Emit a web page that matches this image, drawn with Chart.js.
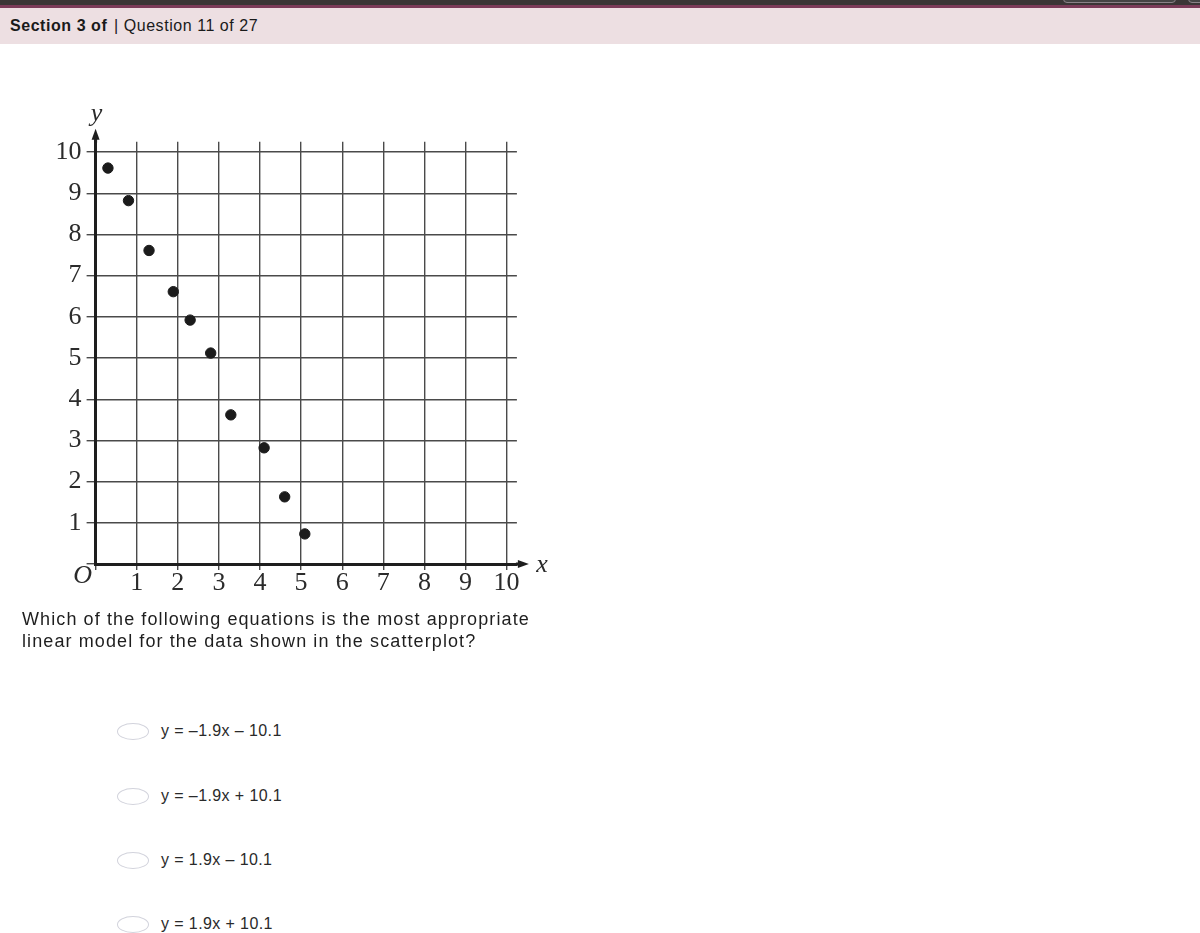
<!DOCTYPE html>
<html>
<head>
<meta charset="utf-8">
<script src="https://cdn.jsdelivr.net/npm/chart.js@4/dist/chart.umd.min.js"></script>
<style>
  html, body { margin: 0; padding: 0; width: 1200px; height: 933px; background: #fff; overflow: hidden; font-family: "Liberation Sans", Arial, sans-serif; }
  #topbar { position: absolute; left: 0; top: 0; width: 1200px; height: 5px; background: #3a3636; }
  #topline { position: absolute; left: 0; top: 5px; width: 1200px; height: 3px; background: #7b3c59; }
  #btn1 { position: absolute; left: 1063px; top: -10px; width: 111px; height: 11px; border: 1px solid #8a8288; border-radius: 4px; background: #444; }
  #btn2 { position: absolute; left: 1188px; top: -10px; width: 40px; height: 11px; border: 1px solid #8a8288; border-radius: 4px; background: #444; }
  #header { position: absolute; left: 0; top: 8px; width: 1200px; height: 36px; background: #eddfe2; }
  #header span { position: absolute; top: 9px; font-size: 16px; letter-spacing: 0.55px; color: #1a1a1a; white-space: nowrap; }
  #question { position: absolute; left: 22px; top: 608px; font-size: 18px; letter-spacing: 1.1px; line-height: 22px; color: #1e1e1e; white-space: nowrap; }
  .opt { position: absolute; left: 117px; height: 18px; }
  .opt .radio { position: absolute; left: 0; top: 0; width: 30px; height: 15px; border: 1px solid #d2d3dc; border-radius: 50%; }
  .opt .lbl { position: absolute; left: 44px; top: -1px; font-size: 16px; letter-spacing: 0.4px; line-height: 18px; color: #2a2a2a; white-space: nowrap; }
  #chartWrap { position: absolute; left: 0; top: 90px; width: 560px; height: 520px; }
</style>
</head>
<body>
<div id="topbar"></div>
<div id="btn1"></div>
<div id="btn2"></div>
<div id="topline"></div>
<div id="header">
  <span style="left:10px;font-weight:bold;">Section 3 of</span>
  <span style="left:114px;">| Question 11 of 27</span>
</div>
<div id="chartWrap"><canvas id="c"></canvas></div>
<div id="question">Which of the following equations is the most appropriate<br>linear model for the data shown in the scatterplot?</div>
<div class="opt" style="top:723px;"><div class="radio"></div><div class="lbl">y = –1.9x – 10.1</div></div>
<div class="opt" style="top:788px;"><div class="radio"></div><div class="lbl">y = –1.9x + 10.1</div></div>
<div class="opt" style="top:852px;"><div class="radio"></div><div class="lbl">y = 1.9x – 10.1</div></div>
<div class="opt" style="top:916px;"><div class="radio"></div><div class="lbl">y = 1.9x + 10.1</div></div>
<script>
// ---- data ----
const xValues = [0.30, 0.80, 1.30, 1.89, 2.30, 2.80, 3.29, 4.10, 4.60, 5.09];
const yValues = [9.61, 8.82, 7.61, 6.61, 5.92, 5.12, 3.62, 2.82, 1.63, 0.73];
const xTickValues = [0, 1, 2, 3, 4, 5, 6, 7, 8, 9, 10];
const xTickLabels = ['', '1', '2', '3', '4', '5', '6', '7', '8', '9', '10'];
const yTickValues = [0, 1, 2, 3, 4, 5, 6, 7, 8, 9, 10];
const yTickLabels = ['', '1', '2', '3', '4', '5', '6', '7', '8', '9', '10'];
const xAxisTitle = 'x';
const yAxisTitle = 'y';
const originLabel = 'O';

const points = xValues.map((x, i) => ({ x: x, y: yValues[i] }));

const serif = '"Liberation Serif", "DejaVu Serif", serif';

const axisDecor = {
  id: 'axisDecor',
  afterDraw(chart) {
    const { ctx, chartArea, scales } = chart;
    const x0 = scales.x.getPixelForValue(0);
    const y0 = scales.y.getPixelForValue(0);
    ctx.save();
    ctx.strokeStyle = '#1e1e1e';
    ctx.fillStyle = '#1e1e1e';
    ctx.lineWidth = 3;
    // y axis extension + arrow
    ctx.beginPath();
    ctx.moveTo(x0, chartArea.top + 1);
    ctx.lineTo(x0, chartArea.top - 5);
    ctx.stroke();
    ctx.beginPath();
    ctx.moveTo(x0, chartArea.top - 13);
    ctx.lineTo(x0 - 4, chartArea.top - 2);
    ctx.lineTo(x0 + 4, chartArea.top - 2);
    ctx.closePath();
    ctx.fill();
    // x axis extension + arrow
    ctx.beginPath();
    ctx.moveTo(chartArea.right - 1, y0);
    ctx.lineTo(chartArea.right + 5, y0);
    ctx.stroke();
    ctx.beginPath();
    ctx.moveTo(chartArea.right + 12, y0);
    ctx.lineTo(chartArea.right + 1, y0 - 4);
    ctx.lineTo(chartArea.right + 1, y0 + 4);
    ctx.closePath();
    ctx.fill();
    // texts
    ctx.fillStyle = '#2b2b2b';
    ctx.font = 'italic 26px ' + serif;
    ctx.textAlign = 'center';
    ctx.textBaseline = 'alphabetic';
    ctx.fillText(yAxisTitle, x0 + 1, chartArea.top - 21);
    ctx.fillText(xAxisTitle, chartArea.right + 25, y0 + 8);
    ctx.fillText(originLabel, x0 - 13, y0 + 19);
    ctx.restore();
  }
};

new Chart(document.getElementById('c'), {
  type: 'scatter',
  data: {
    datasets: [{
      data: points,
      backgroundColor: '#1b1b1b',
      borderColor: '#1b1b1b',
      pointRadius: 5.2,
      pointHoverRadius: 5.2
    }]
  },
  options: {
    responsive: true,
    maintainAspectRatio: false,
    animation: false,
    layout: { padding: { left: 45.6, top: 51.7, right: 43.1, bottom: 6 } },
    plugins: { legend: { display: false }, tooltip: { enabled: false } },
    scales: {
      x: {
        type: 'linear',
        min: 0,
        max: 10.25,
        afterBuildTicks: (s) => { s.ticks = xTickValues.map(v => ({ value: v })); },
        afterFit: (s) => { s.height = 40; },
        ticks: {
          autoSkip: false,
          maxRotation: 0,
          padding: -2,
          color: '#2b2b2b',
          font: { family: serif, size: 26 },
          callback: (v) => xTickLabels[xTickValues.indexOf(v)] || ''
        },
        grid: { color: '#4a4a4a', lineWidth: 1.4, tickLength: 6, drawTicks: true },
        border: { display: true, color: '#1e1e1e', width: 3 }
      },
      y: {
        type: 'linear',
        min: 0,
        max: 10.25,
        afterBuildTicks: (s) => { s.ticks = yTickValues.map(v => ({ value: v })); },
        afterFit: (s) => { s.width = 50; },
        ticks: {
          autoSkip: false,
          padding: 5,
          color: '#2b2b2b',
          font: { family: serif, size: 26 },
          callback: (v) => yTickLabels[yTickValues.indexOf(v)] || ''
        },
        grid: { color: '#4a4a4a', lineWidth: 1.4, tickLength: 9, drawTicks: true },
        border: { display: true, color: '#1e1e1e', width: 3 }
      }
    }
  },
  plugins: [axisDecor]
});
</script>
</body>
</html>
